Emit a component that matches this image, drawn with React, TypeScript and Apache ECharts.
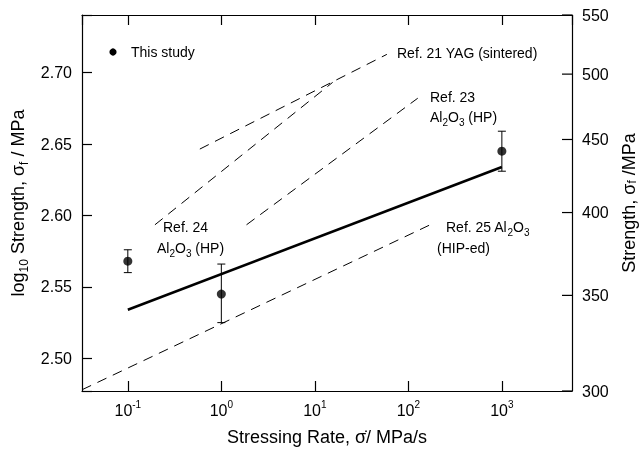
import React, { useEffect, useRef } from "react";
import * as echarts from "echarts";

// ---- data (rates in MPa/s, strengths as log10 of MPa) ----
const studyRates = [0.1, 1, 1000];
const studyLogStrength = [2.568, 2.545, 2.645];
const studyErrLow = [2.56, 2.525, 2.631];
const studyErrHigh = [2.576, 2.566, 2.659];

const fitRates = [0.1, 1000];
const fitLogStrength = [2.534, 2.634];

const ref21Rates = [0.589, 58.9];
const ref21LogStrength = [2.6465, 2.7128];
const ref24Rates = [0.195, 15.5];
const ref24LogStrength = [2.5935, 2.6932];
const ref23Rates = [1.86, 126];
const ref23LogStrength = [2.5935, 2.6821];
const ref25Rates = [0.0324, 190];
const ref25LogStrength = [2.478, 2.5949];

const rightTickLabels = [300, 350, 400, 450, 500, 550];

const legendLabel = "This study";
const xAxisTitle = "Stressing Rate, \u03c3\u0307/ MPa/s";
const leftAxisTitle = "log{sub|10} Strength, \u03c3{sub|f} / MPa";
const rightAxisTitle = "Strength, \u03c3{sub|f} /MPa";

const annotationTexts = [
  "Ref. 21 YAG (sintered)",
  "Ref. 23",
  "Al{sub|2}O{sub|3} (HP)",
  "Ref. 24",
  "Al{sub|2}O{sub|3} (HP)",
  "Ref. 25 Al{sub|2}O{sub|3}",
  "(HIP-ed)",
];
// layout (pixel anchors: left edge, vertical middle)
const annotationPos = [
  [397, 53],
  [430, 97],
  [430, 117],
  [163, 227],
  [157, 248],
  [446, 227],
  [437, 248],
];

const W = 639;
const H = 451;
const X_MIN = Math.pow(10, -1.49);
const X_MAX = Math.pow(10, 3.75);
const Y_MIN = Math.log10(300);
const Y_MAX = Math.log10(550);

const FONT = '"Liberation Sans", Arial, Helvetica, sans-serif';
const BLACK = "#000";

const zip = (xs: number[], ys: number[]) => xs.map((x, i) => [x, ys[i]]);

const dashed = (name: string, xs: number[], ys: number[]) => ({
  name,
  type: "line",
  data: zip(xs, ys),
  showSymbol: false,
  symbol: "none",
  lineStyle: { color: BLACK, width: 1, type: [10, 7] },
  silent: true,
  z: 2,
});

export default function App() {
  const ref = useRef<HTMLDivElement>(null);

  useEffect(() => {
    const chart = echarts.init(ref.current!, null, { renderer: "svg", width: W, height: H });

    const axisLine = { show: true, lineStyle: { color: BLACK, width: 1.2 } };
    const xTickLabel = (v: number) => {
      const e = Math.log10(v);
      const r = Math.round(e);
      if (Math.abs(e - r) > 1e-6) return "";
      return `{b|10}{sup|${r}}`;
    };

    const option: any = {
      animation: false,
      textStyle: { fontFamily: FONT, color: BLACK },
      grid: {
        left: 82,
        right: 67,
        top: 15,
        bottom: 60,
        containLabel: false,
        outerBoundsMode: "none",
      },
      xAxis: [
        {
          type: "log",
          position: "bottom",
          min: X_MIN,
          max: X_MAX,
          axisLine,
          axisTick: { show: true, inside: true, length: 10, lineStyle: { color: BLACK, width: 1.2 } },
          splitLine: { show: false },
          minorTick: { show: false },
          axisLabel: {
            formatter: xTickLabel,
            margin: 8,
            showMinLabel: false,
            showMaxLabel: false,
            rich: {
              b: { fontSize: 16, fontFamily: FONT, color: BLACK, lineHeight: 22 },
              sup: { fontSize: 10, fontFamily: FONT, color: BLACK, verticalAlign: "top" },
            },
          },
          name: xAxisTitle,
          nameLocation: "middle",
          nameGap: 37,
          nameTextStyle: { fontSize: 18, fontFamily: FONT, color: BLACK },
        },
        {
          type: "log",
          position: "top",
          min: X_MIN,
          max: X_MAX,
          axisLine,
          axisTick: { show: true, inside: true, length: 10, lineStyle: { color: BLACK, width: 1.2 } },
          splitLine: { show: false },
          axisLabel: { show: false },
        },
      ],
      yAxis: [
        {
          type: "value",
          position: "left",
          min: Y_MIN,
          max: Y_MAX,
          axisLine,
          axisTick: { show: true, inside: true, length: 10, lineStyle: { color: BLACK, width: 1.2 } },
          splitLine: { show: false },
          axisLabel: {
            fontSize: 16,
            fontFamily: FONT,
            color: BLACK,
            margin: 10,
            formatter: (v: number) => {
              const k = v * 20;
              return Math.abs(k - Math.round(k)) < 1e-6 ? v.toFixed(2) : "";
            },
          },
          name: leftAxisTitle,
          nameLocation: "middle",
          nameRotate: 90,
          nameGap: 43,
          nameTextStyle: {
            fontSize: 18,
            fontFamily: FONT,
            color: BLACK,
            lineHeight: 24,
            rich: { sub: { fontSize: 12, fontFamily: FONT, color: BLACK, verticalAlign: "bottom" } },
          },
        },
        {
          type: "value",
          position: "right",
          min: Y_MIN,
          max: Y_MAX,
          axisLine,
          axisTick: { show: false },
          axisLabel: { show: false },
          splitLine: { show: false },
          name: rightAxisTitle,
          nameLocation: "middle",
          nameRotate: 90,
          nameGap: 48,
          nameTextStyle: {
            fontSize: 18,
            fontFamily: FONT,
            color: BLACK,
            lineHeight: 18,
            rich: { sub: { fontSize: 12, fontFamily: FONT, color: BLACK, verticalAlign: "bottom" } },
          },
        },
      ],
      series: [
        dashed("Ref. 21", ref21Rates, ref21LogStrength),
        dashed("Ref. 24", ref24Rates, ref24LogStrength),
        dashed("Ref. 23", ref23Rates, ref23LogStrength),
        dashed("Ref. 25", ref25Rates, ref25LogStrength),
        {
          name: "fit",
          type: "line",
          data: zip(fitRates, fitLogStrength),
          showSymbol: false,
          symbol: "none",
          lineStyle: { color: BLACK, width: 2.6 },
          z: 3,
        },
        {
          name: "error",
          type: "custom",
          clip: false,
          data: studyRates.map((r, i) => [r, studyErrLow[i], studyErrHigh[i]]),
          encode: { x: 0, y: [1, 2] },
          renderItem: (_p: any, api: any) => {
            const x = api.value(0);
            const top = api.coord([x, api.value(2)]);
            const bot = api.coord([x, api.value(1)]);
            const w = 4;
            const st = { stroke: BLACK, lineWidth: 1 };
            return {
              type: "group",
              children: [
                { type: "line", shape: { x1: top[0], y1: top[1], x2: bot[0], y2: bot[1] }, style: st },
                { type: "line", shape: { x1: top[0] - w, y1: top[1], x2: top[0] + w, y2: top[1] }, style: st },
                { type: "line", shape: { x1: bot[0] - w, y1: bot[1], x2: bot[0] + w, y2: bot[1] }, style: st },
              ],
            };
          },
          z: 4,
        },
        {
          name: legendLabel,
          type: "scatter",
          data: zip(studyRates, studyLogStrength),
          symbol: "circle",
          symbolSize: 9,
          itemStyle: { color: BLACK },
          z: 5,
        },
        {
          name: "rightTicks",
          type: "custom",
          yAxisIndex: 1,
          clip: false,
          silent: true,
          data: rightTickLabels.map((v) => [X_MAX, Math.log10(v), v]),
          encode: { x: 0, y: 1 },
          renderItem: (_p: any, api: any) => {
            const p = api.coord([api.value(0), api.value(1)]);
            return {
              type: "group",
              children: [
                {
                  type: "line",
                  shape: { x1: p[0] - 10, y1: p[1], x2: p[0], y2: p[1] },
                  style: { stroke: BLACK, lineWidth: 1.2 },
                },
                {
                  type: "text",
                  x: p[0] + 10,
                  y: p[1],
                  style: {
                    text: String(api.value(2)),
                    fill: BLACK,
                    fontSize: 16,
                    fontFamily: FONT,
                    align: "left",
                    verticalAlign: "middle",
                  },
                },
              ],
            };
          },
        },
      ],
      graphic: [
        { type: "circle", shape: { cx: 113, cy: 52, r: 3.6 }, style: { fill: BLACK } },
        {
          type: "text",
          x: 131,
          y: 52,
          style: { text: legendLabel, fontSize: 14, fontFamily: FONT, fill: BLACK, verticalAlign: "middle" },
        },
        ...annotationTexts.map((t, i) => ({
          type: "text",
          x: annotationPos[i][0],
          y: annotationPos[i][1],
          style: {
            text: t,
            fontSize: 14,
            fontFamily: FONT,
            fill: BLACK,
            lineHeight: 20,
            verticalAlign: "middle",
            rich: { sub: { fontSize: 10, fontFamily: FONT, fill: BLACK, verticalAlign: "bottom" } },
          },
        })),
      ],
    };

    chart.setOption(option);
    return () => chart.dispose();
  }, []);

  return <div ref={ref} style={{ position: "fixed", left: 0, top: 0, width: W, height: H }} />;
}
